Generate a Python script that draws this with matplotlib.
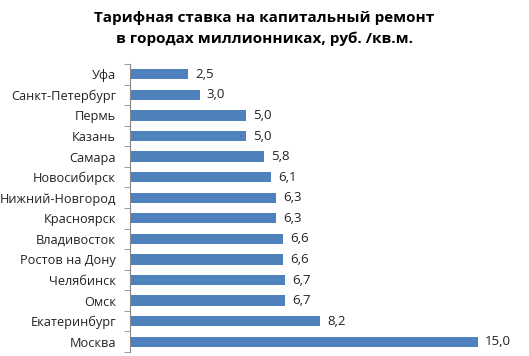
import matplotlib.pyplot as plt

cities = ['Уфа', 'Санкт-Петербург', 'Пермь', 'Казань', 'Самара', 'Новосибирск',
          'Нижний-Новгород', 'Красноярск', 'Владивосток', 'Ростов на Дону',
          'Челябинск', 'Омск', 'Екатеринбург', 'Москва']
rates = [2.5, 3.0, 5.0, 5.0, 5.8, 6.1, 6.3, 6.3, 6.6, 6.6, 6.7, 6.7, 8.2, 15.0]

plt.rcParams['font.family'] = ['Open Sans', 'DejaVu Sans']

fig = plt.figure(figsize=(5.29, 3.56), dpi=100)
ax = fig.add_axes([130/529, 4/356, 371/529, 288/356])

ypos = list(range(len(cities)))
bars = ax.barh(ypos, rates, height=0.5, color='#4F81BD')
ax.set_xlim(0, 16)
ax.set_ylim(len(cities) - 0.5, -0.5)

for y, v in zip(ypos, rates):
    ax.text(v + 0.3, y, f'{v:.1f}'.replace('.', ','), va='center', ha='left',
            fontsize=9.5, color='#222222')

ax.set_yticks(ypos)
ax.set_yticklabels(cities, fontsize=9.2, color='#222222')
ax.set_yticks([i + 0.5 for i in range(-1, len(cities))], minor=True)
ax.tick_params(axis='y', which='major', length=0, pad=10)
ax.tick_params(axis='y', which='minor', length=4, color='#888888')
ax.set_xticks([])
for s in ['top', 'right', 'bottom']:
    ax.spines[s].set_visible(False)
ax.spines['left'].set_color('#888888')

fig.text(0.5, 0.97, 'Тарифная ставка на капитальный ремонт\nв городах миллионниках, руб. /кв.м.',
         ha='center', va='top', fontsize=11, fontweight='bold', linespacing=1.6)

plt.savefig('out.png', dpi=100)
